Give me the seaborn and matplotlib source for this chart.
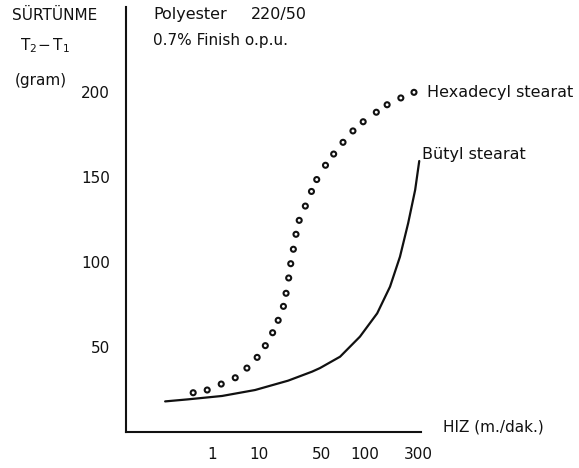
import matplotlib
matplotlib.use("Agg")
import matplotlib.pyplot as plt
import seaborn as sns
import pandas as pd

# x is drawn on an even "position" scale; the speed ticks sit unevenly on it
speed_ticks = [2.95, 4.55, 6.71, 8.18, 10.0]
speed_labels = ["1", "10", "50", "100", "300"]
friction_ticks = [50, 100, 150, 200]

# Hexadecyl stearat (open circles)
hexa_x = [2.30, 2.78, 3.26, 3.74, 4.14, 4.49, 4.77, 5.02, 5.21, 5.39, 5.48, 5.57, 5.64, 5.73,
          5.82, 5.93, 6.14, 6.35, 6.53, 6.83, 7.11, 7.43, 7.77, 8.12, 8.57, 8.94, 9.41, 9.86]
hexa_y = [23.1, 24.7, 28.2, 31.9, 37.6, 43.9, 50.8, 58.4, 65.7, 73.9, 81.6, 90.6, 99.0, 107.5,
          116.3, 124.5, 132.9, 141.5, 148.5, 156.9, 163.5, 170.4, 177.1, 182.5, 188.1, 192.5, 196.5, 199.8]

# Bütyl stearat (solid curve)
butyl_x = [1.34, 2.12, 3.29, 4.42, 5.55, 6.37, 6.64, 7.33, 8.01, 8.60, 9.04, 9.38, 9.66, 9.90, 10.04]
butyl_y = [18.0, 19.2, 21.2, 24.7, 30.2, 35.5, 37.6, 44.3, 56.1, 69.8, 85.5, 103.1, 122.8, 142.4, 159.4]

hexa = pd.DataFrame({"pos": hexa_x, "friction": hexa_y})
butyl = pd.DataFrame({"pos": butyl_x, "friction": butyl_y})

sns.set_style("white")
plt.rcParams["font.family"] = ["DejaVu Sans"]
ink = "#111111"

W, H = 579, 468
fig = plt.figure(figsize=(W / 100, H / 100), dpi=100)
ax = fig.add_axes([126 / W, (H - 432) / H, 295 / W, 425 / H])

sns.lineplot(data=butyl, x="pos", y="friction", ax=ax, color=ink, linewidth=1.6,
             estimator=None, sort=False)
sns.scatterplot(data=hexa, x="pos", y="friction", ax=ax, marker="o", s=13,
                facecolor="none", edgecolor=ink, linewidth=1.5, zorder=3)

ax.set_xlim(0, 10.1)
ax.set_ylim(0, 250)
ax.set_xticks(speed_ticks)
ax.set_xticklabels(speed_labels)
ax.set_yticks(friction_ticks)
ax.set_xlabel("")
ax.set_ylabel("")
sns.despine(ax=ax)
for side in ["left", "bottom"]:
    ax.spines[side].set_linewidth(1.5)
    ax.spines[side].set_color(ink)
ax.tick_params(axis="x", direction="in", length=4, width=1.2, pad=11, labelsize=11, colors=ink)
ax.tick_params(axis="y", direction="in", length=3, width=1.2, pad=11.5, labelsize=11, colors=ink)

# curve labels and axis titles
ax.text(10.31, 200, "Hexadecyl stearat", fontsize=11.5, color=ink, va="center", ha="left", clip_on=False)
ax.text(10.12, 163, "Bütyl stearat", fontsize=11.5, color=ink, va="center", ha="left", clip_on=False)
ax.text(10.86, 3, "HIZ (m./dak.)", fontsize=11, color=ink, va="center", ha="left", clip_on=False)

def fx(px):
    return px / W

def fy(py):
    return 1 - py / H

fig.text(fx(55), fy(15), "SÜRTÜNME", fontsize=11, color=ink, ha="center", va="center")
fig.text(fx(45), fy(46), r"$\mathregular{T_2\!-T_1}$", fontsize=11, color=ink, ha="center", va="center")
fig.text(fx(41), fy(80), "(gram)", fontsize=11, color=ink, ha="center", va="center")
fig.text(fx(153), fy(14), "Polyester", fontsize=11.5, color=ink, ha="left", va="center")
fig.text(fx(251), fy(14), "220/50", fontsize=11.5, color=ink, ha="left", va="center")
fig.text(fx(153), fy(41), "0.7% Finish o.p.u.", fontsize=11, color=ink, ha="left", va="center")

fig.savefig("out.png", dpi=100)
